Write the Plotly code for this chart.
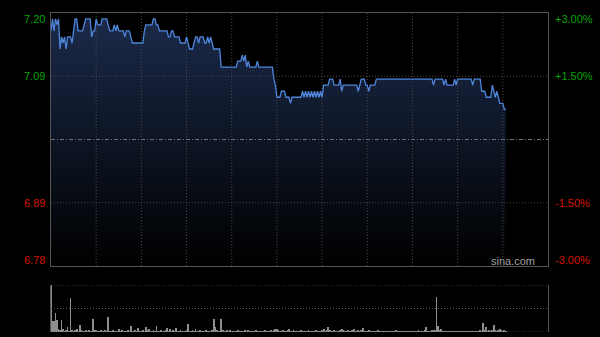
import plotly.graph_objects as go

# ---------------- data ----------------
prev_close = 6.99
pct_levels = [3.0, 1.5, -1.5, -3.0]
price_labels = ["7.20", "7.09", "6.89", "6.78"]
pct_labels = ["+3.00%", "+1.50%", "-1.50%", "-3.00%"]
session_minutes = 330  # 09:30-12:00, 13:00-16:00
grid_step = 30

prices = [
    7.17, 7.19, 7.17, 7.19, 7.18, 7.19, 7.14, 7.16, 7.15, 7.16, 7.14, 7.16, 7.16, 7.16, 7.15,
    7.17, 7.19, 7.19, 7.17, 7.17, 7.17, 7.17, 7.18, 7.19, 7.19, 7.19, 7.19, 7.16, 7.17, 7.17,
    7.19, 7.18, 7.18, 7.18, 7.19, 7.19, 7.19, 7.19, 7.18, 7.17, 7.17, 7.17, 7.18, 7.17, 7.18,
    7.17, 7.17, 7.17, 7.17, 7.16, 7.17, 7.17, 7.17, 7.16, 7.15, 7.15, 7.15, 7.15, 7.15, 7.15,
    7.15, 7.15, 7.17, 7.18, 7.18, 7.18, 7.18, 7.18, 7.19, 7.19, 7.18, 7.18, 7.17, 7.17, 7.17,
    7.17, 7.17, 7.17, 7.16, 7.16, 7.17, 7.17, 7.16, 7.16, 7.16, 7.16, 7.15, 7.15, 7.15, 7.15,
    7.16, 7.15, 7.14, 7.14, 7.14, 7.15, 7.16, 7.16, 7.15, 7.16, 7.16, 7.16, 7.15, 7.15, 7.16,
    7.15, 7.16, 7.15, 7.14, 7.14, 7.14, 7.14, 7.14, 7.11, 7.11, 7.11, 7.11, 7.11, 7.11, 7.11,
    7.11, 7.11, 7.11, 7.11, 7.12, 7.12, 7.12, 7.13, 7.12, 7.13, 7.11, 7.12, 7.11, 7.11, 7.11,
    7.11, 7.11, 7.12, 7.11, 7.11, 7.11, 7.11, 7.11, 7.11, 7.11, 7.11, 7.11, 7.11, 7.09, 7.08,
    7.06, 7.06, 7.06, 7.07, 7.07, 7.07, 7.06, 7.06, 7.06, 7.05, 7.06, 7.06, 7.06, 7.06, 7.06,
    7.06, 7.06, 7.07, 7.06, 7.07, 7.06, 7.07, 7.06, 7.07, 7.06, 7.07, 7.06, 7.07, 7.06, 7.07,
    7.06, 7.08, 7.08, 7.08, 7.08, 7.09, 7.09, 7.09, 7.08, 7.08, 7.08, 7.08, 7.09, 7.07, 7.08,
    7.08, 7.08, 7.08, 7.08, 7.08, 7.08, 7.08, 7.08, 7.08, 7.07, 7.08, 7.09, 7.09, 7.09, 7.08,
    7.08, 7.07, 7.08, 7.08, 7.08, 7.08, 7.09, 7.09, 7.09, 7.09, 7.09, 7.09, 7.09, 7.09, 7.09,
    7.09, 7.09, 7.09, 7.09, 7.09, 7.09, 7.09, 7.09, 7.09, 7.09, 7.09, 7.09, 7.09, 7.09, 7.09,
    7.09, 7.09, 7.09, 7.09, 7.09, 7.09, 7.09, 7.09, 7.09, 7.09, 7.09, 7.09, 7.09, 7.09, 7.08,
    7.09, 7.09, 7.09, 7.09, 7.09, 7.09, 7.08, 7.09, 7.08, 7.08, 7.08, 7.08, 7.08, 7.09, 7.08,
    7.09, 7.09, 7.09, 7.09, 7.09, 7.09, 7.09, 7.09, 7.09, 7.09, 7.08, 7.09, 7.09, 7.09, 7.09,
    7.09, 7.07, 7.07, 7.07, 7.06, 7.06, 7.06, 7.06, 7.08, 7.07, 7.06, 7.07, 7.06, 7.05, 7.05,
    7.05, 7.04, 7.04,
]

volumes = [
    100, 23, 23, 40, 26, 6, 3, 26, 6, 2, 3, 11, 2, 72, 3, 2, 3, 6, 2, 15, 3, 2, 2, 4, 2, 3, 2, 2, 27, 3,
    4, 2, 2, 3, 2, 2, 3, 2, 32, 2, 2, 3, 2, 2, 2, 7, 2, 3, 2, 2, 2, 3, 2, 13, 2, 2, 3, 2, 8, 2,
    2, 3, 2, 10, 3, 6, 2, 2, 3, 2, 13, 2, 2, 3, 2, 2, 3, 9, 2, 6, 2, 3, 2, 9, 2, 2, 3, 2, 2, 2,
    3, 16, 2, 2, 3, 2, 7, 2, 2, 3, 2, 2, 2, 3, 2, 2, 2, 3, 27, 11, 3, 2, 2, 27, 4, 2, 2, 3, 2, 3,
    2, 2, 2, 2, 3, 2, 2, 2, 2, 3, 2, 3, 2, 2, 2, 2, 3, 2, 2, 2, 2, 2, 3, 2, 2, 2, 3, 2, 4, 7,
    7, 3, 2, 2, 3, 2, 2, 3, 6, 2, 2, 3, 2, 2, 2, 2, 3, 2, 2, 2, 2, 3, 2, 2, 2, 2, 3, 2, 2, 2,
    3, 6, 2, 3, 10, 4, 2, 2, 3, 2, 2, 2, 3, 6, 4, 2, 2, 3, 2, 2, 3, 7, 2, 2, 4, 2, 3, 9, 2, 2,
    2, 3, 2, 2, 2, 2, 2, 3, 2, 2, 2, 2, 2, 2, 2, 2, 2, 2, 2, 3, 2, 2, 2, 2, 2, 2, 2, 2, 2, 2,
    2, 2, 2, 2, 3, 2, 2, 2, 3, 11, 2, 2, 2, 3, 3, 4, 74, 13, 3, 6, 2, 2, 2, 2, 2, 2, 2, 2, 2, 2,
    2, 2, 2, 2, 2, 2, 2, 2, 2, 2, 2, 2, 2, 2, 2, 3, 2, 20, 3, 10, 2, 3, 2, 3, 14, 3, 2, 3, 6, 4,
    2, 3, 2,
]

minutes = list(range(len(prices)))

# ---------------- derived levels ----------------
levels = [prev_close * (1 + p / 100.0) for p in pct_levels]
ymax, ymin = levels[0], levels[-1]
vmax = max(volumes)
label_colors = ["#00a400" if p > 0 else "#d41400" for p in pct_levels]
label_shift = [-6, 0, 0, 6]

# grid line paths (built from axis ticks, drawn over the area fill)
gx, gy = [], []
for m in range(grid_step, session_minutes, grid_step):
    gx += [m, m, None]
    gy += [ymin, ymax, None]
for lv in (levels[1], levels[2]):
    gx += [0, session_minutes, None]
    gy += [lv, lv, None]

vgx, vgy = [], []
for v in (0, vmax / 2, vmax):
    vgx += [0, session_minutes, None]
    vgy += [v, v, None]

# ---------------- figure ----------------
fig = go.Figure()

# area fill
fig.add_trace(go.Scatter(
    x=minutes, y=prices, mode="none",
    fill="tozeroy",
    fillgradient=dict(type="vertical",
                      colorscale=[[0, "#000000"], [0.5, "#0d1524"], [1, "#1c2b4c"]],
                      start=ymin, stop=ymax),
    hoverinfo="skip", showlegend=False,
))
# grid above the fill
fig.add_trace(go.Scatter(
    x=gx, y=gy, mode="lines", line=dict(color="#4a4a4a", width=1, dash="1px,2px"),
    hoverinfo="skip", showlegend=False,
))
# previous close line
fig.add_trace(go.Scatter(
    x=[0, session_minutes], y=[prev_close, prev_close], mode="lines",
    line=dict(color="#6a7482", width=1, dash="4px,2px,1px,2px"),
    hoverinfo="skip", showlegend=False,
))
# price line
fig.add_trace(go.Scatter(
    x=minutes, y=prices, mode="lines",
    line=dict(color="#4f86dc", width=1.3),
    hoverinfo="skip", showlegend=False,
))

# volume grid + bars
fig.add_trace(go.Scatter(
    x=vgx, y=vgy, xaxis="x2", yaxis="y2", mode="lines",
    line=dict(color="#5a5a5a", width=1, dash="1px,2px"),
    hoverinfo="skip", showlegend=False,
))
fig.add_trace(go.Bar(
    x=minutes, y=volumes, xaxis="x2", yaxis="y2",
    marker=dict(color="#8e8e8e", line=dict(width=0)),
    width=0.55, hoverinfo="skip", showlegend=False,
))

xdom = [51 / 600, 548 / 600]
axis_common = dict(showticklabels=False, ticks="", zeroline=False, showgrid=False)

fig.update_layout(
    width=600, height=337, autosize=False,
    margin=dict(l=0, r=0, t=0, b=0),
    paper_bgcolor="#000000", plot_bgcolor="#000000",
    font=dict(family="Liberation Sans, Arial, sans-serif", size=11),
    xaxis=dict(domain=xdom, range=[0, session_minutes], anchor="y",
               showline=True, mirror=True, linecolor="#555555", linewidth=1,
               **axis_common),
    yaxis=dict(domain=[71 / 337, 324 / 337], range=[ymin, ymax], anchor="x",
               showline=True, mirror=True, linecolor="#555555", linewidth=1,
               **axis_common),
    xaxis2=dict(domain=xdom, range=[0, session_minutes], anchor="y2",
                showline=False, **axis_common),
    yaxis2=dict(domain=[5 / 337, 52 / 337], range=[0, vmax], anchor="x2",
                showline=True, mirror=True, linecolor="#555555", linewidth=1,
                **axis_common),
    bargap=0,
)

for lv, txt, col, sh in zip(levels, price_labels, label_colors, label_shift):
    fig.add_annotation(x=47 / 600, xref="paper", xanchor="right",
                       y=lv, yref="y", yanchor="middle", yshift=sh,
                       text=txt, showarrow=False,
                       font=dict(color=col, size=11))
for lv, txt, col, sh in zip(levels, pct_labels, label_colors, label_shift):
    fig.add_annotation(x=553 / 600, xref="paper", xanchor="left",
                       y=lv, yref="y", yanchor="middle", yshift=sh,
                       text=txt, showarrow=False,
                       font=dict(color=col, size=11))

fig.add_annotation(x=537 / 600, xref="paper", xanchor="right",
                   y=ymin, yref="y", yanchor="middle", yshift=5,
                   text="sina.com", showarrow=False,
                   font=dict(color="#a0a0a0", size=11))

fig.write_html("out.html")
